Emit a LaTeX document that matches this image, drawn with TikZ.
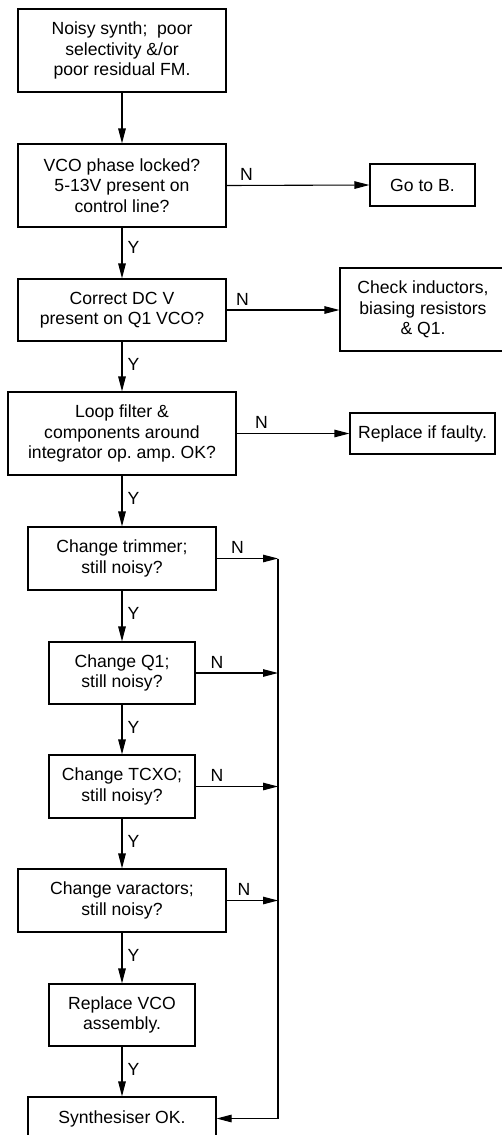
\documentclass[tikz,border=0pt]{standalone}
\usepackage{fontspec}
\setmainfont{Liberation Sans}
\usetikzlibrary{arrows.meta}
\frenchspacing
\tikzset{
  box/.style={draw, line width=1.1pt, align=center, inner sep=0pt, font=\fontsize{17.6}{20.5}\selectfont},
  arr/.style={line width=1.1pt, -{Triangle[length=15pt,width=7.5pt]}},
  ln/.style={line width=1.1pt},
  lab/.style={font=\fontsize{17.6}{20}\selectfont, inner sep=0pt}
}
\begin{document}
\begin{tikzpicture}[x=1pt,y=-1pt]
\useasboundingbox (0,0) rectangle (502,1135);
\clip (0,0) rectangle (502,1135);
\node[box, minimum width=208pt, minimum height=83pt] (b1) at (122,50.5) {Noisy synth;\ \ poor\\selectivity \&/or\\poor residual FM.};
\node[box, minimum width=208pt, minimum height=83pt] (b2) at (122,185.5) {VCO phase locked?\\5-13V present on\\control line?};
\node[box, minimum width=105pt, minimum height=42pt] (gob) at (422.5,185) {Go to B.};
\node[box, minimum width=166pt, minimum height=83pt] (chk) at (423,309.5) {Check inductors,\\biasing resistors\\\& Q1.};
\node[box, minimum width=208pt, minimum height=62pt] (b3) at (122,310) {Correct DC V\\present on Q1 VCO?};
\node[box, minimum width=228pt, minimum height=83pt] (b4) at (122,433.5) {Loop filter \&\\components around\\integrator op. amp. OK?};
\node[box, minimum width=145pt, minimum height=41pt] (rep) at (422.5,433.5) {Replace if faulty.};
\node[box, minimum width=188pt, minimum height=63pt] (b5) at (122,558.5) {Change trimmer;\\still noisy?};
\node[box, minimum width=146pt, minimum height=62pt] (b6) at (122,673) {Change Q1;\\still noisy?};
\node[box, minimum width=146pt, minimum height=63pt] (b7) at (122,786.5) {Change TCXO;\\still noisy?};
\node[box, minimum width=208pt, minimum height=63pt] (b8) at (122,900.5) {Change varactors;\\still noisy?};
\node[box, minimum width=146pt, minimum height=62pt] (b9) at (122,1015) {Replace VCO\\assembly.};
\node[box, minimum width=188pt, minimum height=43pt] (b10) at (122,1118.5) {Synthesiser OK.};

% vertical Y chain
\draw[arr] (b1) -- (b2);
\draw[arr] (b2) -- node[lab, right=5pt, pos=0.4] {Y} (b3);
\draw[arr] (b3) -- node[lab, right=5pt, pos=0.45] {Y} (b4);
\draw[arr] (b4) -- node[lab, right=5pt, pos=0.45] {Y} (b5);
\draw[arr] (b5) -- node[lab, right=5pt, pos=0.45] {Y} (b6);
\draw[arr] (b6) -- node[lab, right=5pt, pos=0.45] {Y} (b7);
\draw[arr] (b7) -- node[lab, right=5pt, pos=0.45] {Y} (b8);
\draw[arr] (b8) -- node[lab, right=5pt, pos=0.45] {Y} (b9);
\draw[arr] (b9) -- node[lab, right=5pt, pos=0.45] {Y} (b10);

% N branches
\draw[arr] (b2.east) -- node[lab, above=4pt, pos=0.14] {N} (gob.west);
\draw[arr] (b3.east) -- node[lab, above=4pt, pos=0.14] {N} (b3.east -| chk.west);
\draw[arr] (b4.east) -- node[lab, above=4pt, pos=0.22] {N} (rep.west);

% loop bus
\coordinate (t5) at (278,558.5);
\coordinate (t6) at (278,673);
\coordinate (t7) at (278,786.5);
\coordinate (t8) at (278,900.5);
\coordinate (t10) at (278,1118.5);
\draw[arr] (b5.east) -- node[lab, above=4pt, pos=0.34] {N} (t5);
\draw[arr] (b6.east) -- node[lab, above=4pt, pos=0.26] {N} (t6);
\draw[arr] (b7.east) -- node[lab, above=4pt, pos=0.26] {N} (t7);
\draw[arr] (b8.east) -- node[lab, above=4pt, pos=0.34] {N} (t8);
\draw[ln] (t5) -- (t10);
\draw[arr] (t10) -- (b10.east);
\end{tikzpicture}
\end{document}
